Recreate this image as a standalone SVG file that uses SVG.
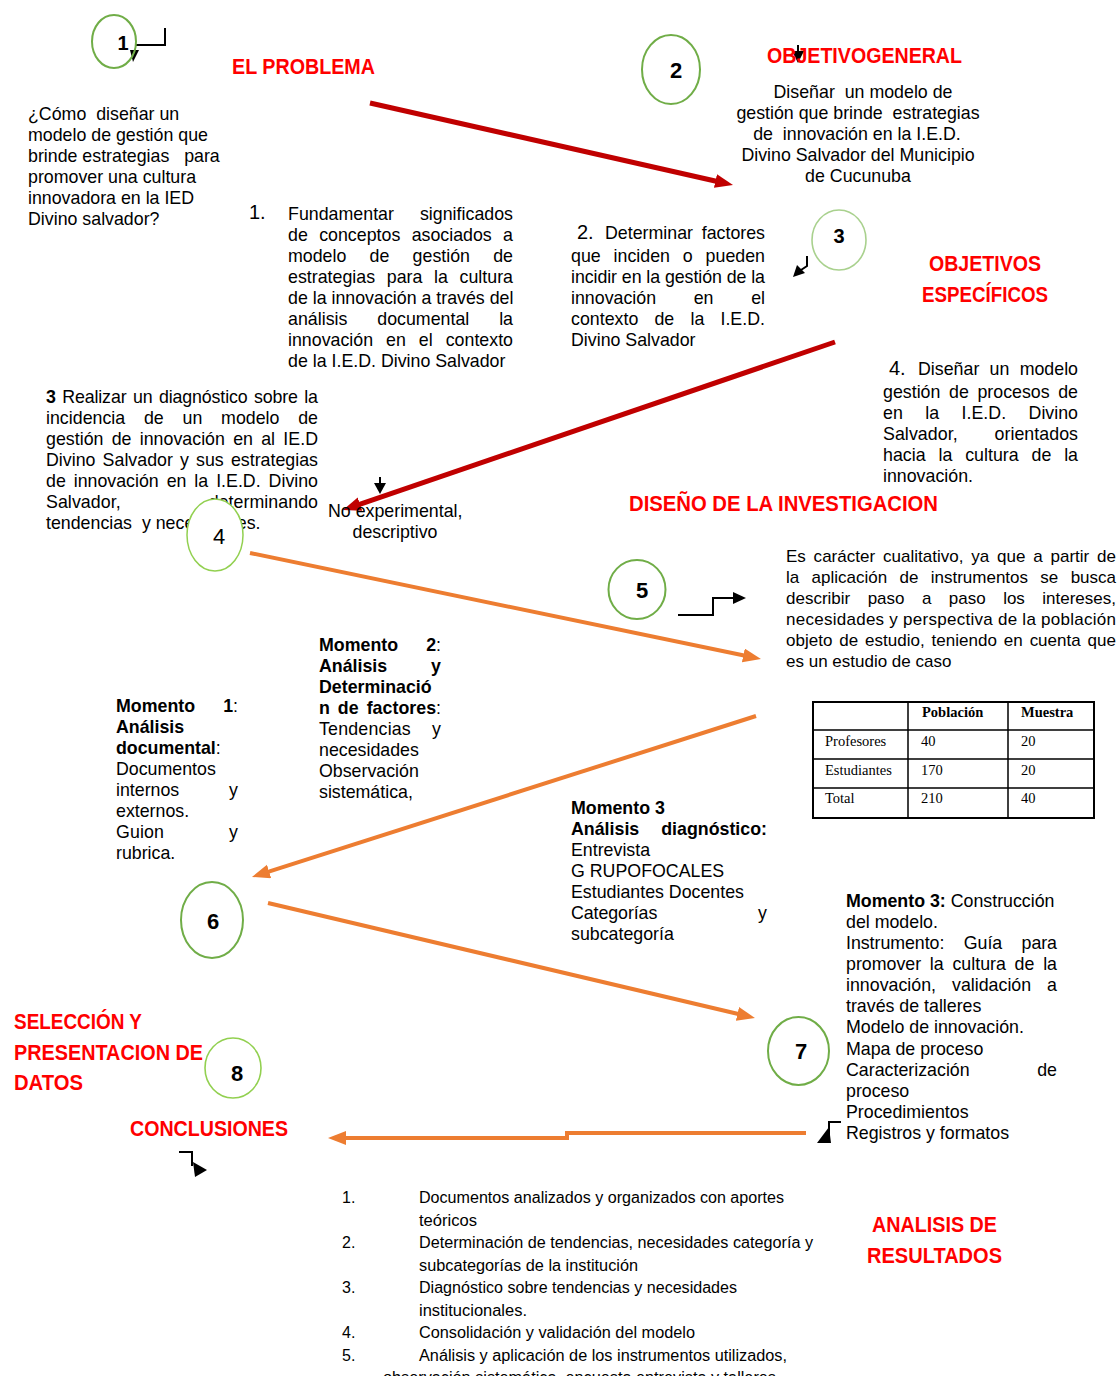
<svg xmlns="http://www.w3.org/2000/svg" width="1120" height="1376" viewBox="0 0 1120 1376">
<style>
.t{font-family:"Liberation Sans",Arial,sans-serif;font-size:17.8px;fill:#000}
.p{font-family:"Liberation Sans",Arial,sans-serif;font-size:17px;fill:#000}
.b{font-weight:bold}
.h{font-family:"Liberation Sans",Arial,sans-serif;font-weight:bold;font-size:22px;fill:#FF0000}
.n{font-family:"Liberation Sans",Arial,sans-serif;font-weight:bold;font-size:22px;text-anchor:middle;fill:#000}
.num{font-family:"Liberation Sans",Arial,sans-serif;font-size:20px;fill:#000}
.c1{fill:#fff;stroke:#70AD47;stroke-width:2}
.c2{fill:#fff;stroke:#A9D18E;stroke-width:1.6}
.l{font-family:"Liberation Sans",Arial,sans-serif;font-size:16px;fill:#000}
.tb{font-family:"Liberation Serif","Times New Roman",serif;font-size:14.5px;fill:#000}
.red{fill:none;stroke:#C00000;stroke-width:5}
.org{fill:none;stroke:#ED7D31;stroke-width:4}
.blk{fill:none;stroke:#000;stroke-width:2}
.hd{fill:#000}
</style>
<defs>
<marker id="aR" markerUnits="userSpaceOnUse" markerWidth="20" markerHeight="16" refX="2" refY="7" orient="auto"><path d="M0,0 L18,7 L0,14 z" fill="#C00000"/></marker>
<marker id="aO" markerUnits="userSpaceOnUse" markerWidth="20" markerHeight="16" refX="2" refY="7" orient="auto"><path d="M0,0 L18,7 L0,14 z" fill="#ED7D31"/></marker>
</defs>

<g id="connectors">
<path class="red" d="M370,103 L717.4,181.5" marker-end="url(#aR)"/>
<path class="red" d="M835,342 L358.1,504.8" marker-end="url(#aR)"/>
<path class="org" d="M250,553 L745.3,655.8" marker-end="url(#aO)"/>
<path class="org" d="M756,716 L267.2,872.1" marker-end="url(#aO)"/>
<path class="org" d="M268,903 L739.4,1014.3" marker-end="url(#aO)"/>
<path class="org" d="M806,1133 H567 V1138 H344" marker-end="url(#aO)"/>
<path class="blk" d="M165,28 V45 H136"/>
<polygon class="hd" points="130,50 139,50 133,62"/>
<path class="blk" d="M798,45 V53"/>
<polygon class="hd" points="792,51 804,51 798,63"/>
<path class="blk" d="M807,256 V266 L801,270"/>
<polygon class="hd" points="793,277 797,265 805,273"/>
<path class="blk" d="M380,477 V485"/>
<polygon class="hd" points="374,483 386,483 380,494"/>
<path class="blk" d="M678,615 H713 V598 H734"/>
<polygon class="hd" points="733,592 746,598 733,604"/>
<path class="blk" d="M841,1122 H829 V1135"/>
<polygon class="hd" points="817,1143 831,1143 829,1127"/>
<path class="blk" d="M179,1152 H192 V1166"/>
<polygon class="hd" points="193,1162 207,1170 195,1177"/>
</g>

<g id="node-1">
<ellipse class="c1" cx="114" cy="41.5" rx="22" ry="26.5" style="fill:none"/>
<text class="n" x="123" y="50" style="font-size:20px">1</text>
</g>

<g id="el-problema">
<text class="h" x="232" y="74" textLength="143" lengthAdjust="spacingAndGlyphs">EL PROBLEMA</text>
<text class="t" xml:space="preserve"><tspan x="28" y="120">¿Cómo  diseñar un</tspan><tspan x="28" y="141">modelo de gestión que</tspan><tspan x="28" y="162">brinde estrategias   para</tspan><tspan x="28" y="183">promover una cultura</tspan><tspan x="28" y="204">innovadora en la IED</tspan><tspan x="28" y="225">Divino salvador?</tspan></text>
</g>

<g id="node-2">
<ellipse class="c1" cx="671" cy="69.5" rx="29" ry="34.5"/>
<text class="n" x="676" y="78">2</text>
</g>

<g id="objetivo-general">
<text class="h" x="767" y="63" textLength="195" lengthAdjust="spacingAndGlyphs">OBJETIVOGENERAL</text>
<text class="t" text-anchor="middle" xml:space="preserve"><tspan x="863" y="98">Diseñar  un modelo de</tspan><tspan x="858" y="119">gestión que brinde  estrategias</tspan><tspan x="857" y="140">de  innovación en la I.E.D.</tspan><tspan x="858" y="161">Divino Salvador del Municipio</tspan><tspan x="858" y="182">de Cucunuba</tspan></text>
</g>

<g id="objetivo-1">
<text class="num" x="249" y="219">1.</text>
<text class="t" x="288" y="220" textLength="225" lengthAdjust="spacing" style="word-spacing:21px">Fundamentar significados</text>
<text class="t" x="288" y="241" textLength="225" lengthAdjust="spacing" style="word-spacing:6.4px">de conceptos asociados a</text>
<text class="t" x="288" y="262" textLength="225" lengthAdjust="spacing" style="word-spacing:18.3px">modelo de gestión de</text>
<text class="t" x="288" y="283" textLength="225" lengthAdjust="spacing" style="word-spacing:6.7px">estrategias para la cultura</text>
<text class="t" x="288" y="304">de la innovación a través del</text>
<text class="t" x="288" y="325" textLength="225" lengthAdjust="spacing" style="word-spacing:24.9px">análisis documental la</text>
<text class="t" x="288" y="346" textLength="225" lengthAdjust="spacing" style="word-spacing:8px">innovación en el contexto</text>
<text class="t" x="288" y="367">de la I.E.D. Divino Salvador</text>
</g>

<g id="objetivo-2">
<text class="num" x="577" y="239">2.</text>
<text class="t" x="605" y="239" textLength="160" lengthAdjust="spacing" style="word-spacing:3.7px">Determinar factores</text>
<text class="t" x="571" y="262" textLength="194" lengthAdjust="spacing" style="word-spacing:7.9px">que inciden o pueden</text>
<text class="t" x="571" y="283" textLength="194" lengthAdjust="spacing">incidir en la gestión de la</text>
<text class="t" x="571" y="304" textLength="194" lengthAdjust="spacing" style="word-spacing:32.7px">innovación en el</text>
<text class="t" x="571" y="325" textLength="194" lengthAdjust="spacing" style="word-spacing:11.2px">contexto de la I.E.D.</text>
<text class="t" x="571" y="346">Divino Salvador</text>
</g>

<g id="node-3">
<ellipse class="c2" cx="839" cy="240" rx="27" ry="30"/>
<text class="n" x="839" y="243" style="font-size:20px">3</text>
</g>

<g id="objetivos-especificos">
<text class="h" x="929" y="271" textLength="112" lengthAdjust="spacingAndGlyphs">OBJETIVOS</text>
<text class="h" x="922" y="302" textLength="126" lengthAdjust="spacingAndGlyphs">ESPECÍFICOS</text>
</g>

<g id="objetivo-4">
<text class="num" x="889" y="375">4.</text>
<text class="t" x="918" y="375" textLength="160" lengthAdjust="spacing" style="word-spacing:5.3px">Diseñar un modelo</text>
<text class="t" x="883" y="398" textLength="195" lengthAdjust="spacing" style="word-spacing:3.7px">gestión de procesos de</text>
<text class="t" x="883" y="419" textLength="195" lengthAdjust="spacing" style="word-spacing:17.5px">en la I.E.D. Divino</text>
<text class="t" x="883" y="440" textLength="195" lengthAdjust="spacing" style="word-spacing:31.8px">Salvador, orientados</text>
<text class="t" x="883" y="461" textLength="195" lengthAdjust="spacing" style="word-spacing:7.9px">hacia la cultura de la</text>
<text class="t" x="883" y="482">innovación.</text>
</g>

<g id="objetivo-3">
<text class="t" x="46" y="403" textLength="272" lengthAdjust="spacing" style="word-spacing:1.7px"><tspan class="b">3</tspan> Realizar un diagnóstico sobre la</text>
<text class="t" x="46" y="424" textLength="272" lengthAdjust="spacing" style="word-spacing:13.8px">incidencia de un modelo de</text>
<text class="t" x="46" y="445" textLength="272" lengthAdjust="spacing" style="word-spacing:3.3px">gestión de innovación en al IE.D</text>
<text class="t" x="46" y="466" textLength="272" lengthAdjust="spacing" style="word-spacing:2.2px">Divino Salvador y sus estrategias</text>
<text class="t" x="46" y="487" textLength="272" lengthAdjust="spacing" style="word-spacing:3px">de innovación en la I.E.D. Divino</text>
<text class="t" x="46" y="508" textLength="272" lengthAdjust="spacing" style="word-spacing:83px">Salvador, determinando</text>
<text class="t" x="46" y="529" xml:space="preserve">tendencias  y necesidades.</text>
</g>

<g id="node-4">
<ellipse cx="215" cy="535" rx="28" ry="36" fill="#fff" stroke="#92D050" stroke-width="1.5"/>
<text class="n" x="219" y="544" style="font-weight:normal">4</text>
</g>

<g id="tipo-estudio">
<text class="t" x="328" y="517">No experimental,</text>
<text class="t" x="395" y="538" text-anchor="middle">descriptivo</text>
</g>

<g id="diseno">
<text class="h" x="629" y="511" textLength="309" lengthAdjust="spacingAndGlyphs">DISEÑO DE LA INVESTIGACION</text>
</g>

<g id="node-5">
<ellipse class="c1" cx="637" cy="589.5" rx="28.5" ry="29.5"/>
<text class="n" x="642" y="598">5</text>
</g>

<g id="enfoque">
<text class="p" x="786" y="562" textLength="330" lengthAdjust="spacing" style="word-spacing:3px">Es carácter cualitativo, ya que a partir de</text>
<text class="p" x="786" y="583" textLength="330" lengthAdjust="spacing" style="word-spacing:7.6px">la aplicación de instrumentos se busca</text>
<text class="p" x="786" y="604" textLength="330" lengthAdjust="spacing" style="word-spacing:12.7px">describir paso a paso los intereses,</text>
<text class="p" x="786" y="625" textLength="330" lengthAdjust="spacing">necesidades y perspectiva de la población</text>
<text class="p" x="786" y="646" textLength="330" lengthAdjust="spacing" style="word-spacing:2.2px">objeto de estudio, teniendo en cuenta que</text>
<text class="p" x="786" y="667">es un estudio de caso</text>
</g>

<g id="momento-2">
<text class="t" x="319" y="651" textLength="122" lengthAdjust="spacing" style="word-spacing:23px"><tspan class="b">Momento 2</tspan>:</text>
<text class="t b" x="319" y="672" textLength="122" lengthAdjust="spacing" style="word-spacing:39px">Análisis y</text>
<text class="t b" x="319" y="693">Determinació</text>
<text class="t" x="319" y="714" textLength="122" lengthAdjust="spacing" style="word-spacing:3px"><tspan class="b">n de factores</tspan>:</text>
<text class="t" x="319" y="735" textLength="122" lengthAdjust="spacing" style="word-spacing:16px">Tendencias y</text>
<text class="t" x="319" y="756">necesidades</text>
<text class="t" x="319" y="777">Observación</text>
<text class="t" x="319" y="798">sistemática,</text>
</g>

<g id="momento-1">
<text class="t" x="116" y="712" textLength="122" lengthAdjust="spacing" style="word-spacing:23px"><tspan class="b">Momento 1</tspan>:</text>
<text class="t b" x="116" y="733">Análisis</text>
<text class="t" x="116" y="754"><tspan class="b">documental</tspan>:</text>
<text class="t" x="116" y="775">Documentos</text>
<text class="t" x="116" y="796" textLength="122" lengthAdjust="spacing" style="word-spacing:45px">internos y</text>
<text class="t" x="116" y="817">externos.</text>
<text class="t" x="116" y="838" textLength="122" lengthAdjust="spacing" style="word-spacing:60px">Guion y</text>
<text class="t" x="116" y="859">rubrica.</text>
</g>

<g id="tabla">
<rect x="813" y="702" width="281" height="116" fill="#fff" stroke="#000" stroke-width="2"/>
<path d="M908,702 V818 M1008,702 V818 M813,730 H1094 M813,759 H1094 M813,788 H1094" stroke="#000" stroke-width="1.5" fill="none"/>
<text class="tb b" x="922" y="717">Población</text>
<text class="tb b" x="1021" y="717">Muestra</text>
<text class="tb" x="825" y="746">Profesores</text>
<text class="tb" x="921" y="746">40</text>
<text class="tb" x="1021" y="746">20</text>
<text class="tb" x="825" y="775">Estudiantes</text>
<text class="tb" x="921" y="775">170</text>
<text class="tb" x="1021" y="775">20</text>
<text class="tb" x="825" y="803">Total</text>
<text class="tb" x="921" y="803">210</text>
<text class="tb" x="1021" y="803">40</text>
</g>

<g id="momento-3">
<text class="t b" x="571" y="814">Momento 3</text>
<text class="t b" x="571" y="835" textLength="196" lengthAdjust="spacing" style="word-spacing:17px">Análisis diagnóstico:</text>
<text class="t" x="571" y="856">Entrevista</text>
<text class="t" x="571" y="877">G RUPOFOCALES</text>
<text class="t" x="571" y="898">Estudiantes Docentes</text>
<text class="t" x="571" y="919" textLength="196" lengthAdjust="spacing" style="word-spacing:96px">Categorías y</text>
<text class="t" x="571" y="940">subcategoría</text>
</g>

<g id="node-6">
<ellipse class="c1" cx="212" cy="920" rx="31" ry="38"/>
<text class="n" x="213" y="929">6</text>
</g>

<g id="momento-3-construccion">
<text class="t" x="846" y="907"><tspan class="b">Momento 3:</tspan> Construcción</text>
<text class="t" x="846" y="928">del modelo.</text>
<text class="t" x="846" y="949" textLength="211" lengthAdjust="spacing" style="word-spacing:14.5px">Instrumento: Guía para</text>
<text class="t" x="846" y="970" textLength="211" lengthAdjust="spacing" style="word-spacing:3.8px">promover la cultura de la</text>
<text class="t" x="846" y="991" textLength="211" lengthAdjust="spacing" style="word-spacing:11px">innovación, validación a</text>
<text class="t" x="846" y="1012">través de talleres</text>
<text class="t" x="846" y="1033">Modelo de innovación.</text>
<text class="t" x="846" y="1055">Mapa de proceso</text>
<text class="t" x="846" y="1076" textLength="211" lengthAdjust="spacing" style="word-spacing:62.6px">Caracterización de</text>
<text class="t" x="846" y="1097">proceso</text>
<text class="t" x="846" y="1118">Procedimientos</text>
<text class="t" x="846" y="1139">Registros y formatos</text>
</g>

<g id="node-7">
<ellipse class="c1" cx="798.5" cy="1051" rx="30.5" ry="34"/>
<text class="n" x="801" y="1059">7</text>
</g>

<g id="seleccion">
<text class="h" x="14" y="1029" textLength="128" lengthAdjust="spacingAndGlyphs">SELECCIÓN Y</text>
<text class="h" x="14" y="1060" textLength="189" lengthAdjust="spacingAndGlyphs">PRESENTACION DE</text>
<text class="h" x="14" y="1090" textLength="69" lengthAdjust="spacingAndGlyphs">DATOS</text>
</g>

<g id="node-8">
<ellipse cx="233" cy="1068" rx="28" ry="30" fill="none" stroke="#92D050" stroke-width="1.6"/>
<text class="n" x="237" y="1081">8</text>
</g>

<g id="conclusiones">
<text class="h" x="130" y="1136" textLength="158" lengthAdjust="spacingAndGlyphs">CONCLUSIONES</text>
</g>

<g id="analisis-resultados">
<text class="h" x="934.5" y="1232" text-anchor="middle" textLength="125" lengthAdjust="spacingAndGlyphs">ANALISIS DE</text>
<text class="h" x="934.5" y="1263" text-anchor="middle" textLength="135" lengthAdjust="spacingAndGlyphs">RESULTADOS</text>
</g>

<g id="lista-resultados">
<text class="l" x="342" y="1203">1.</text>
<text class="l" x="419" y="1203" textLength="365" lengthAdjust="spacingAndGlyphs">Documentos analizados y organizados con aportes</text>
<text class="l" x="419" y="1226" textLength="58" lengthAdjust="spacingAndGlyphs">teóricos</text>
<text class="l" x="342" y="1248">2.</text>
<text class="l" x="419" y="1248" textLength="394" lengthAdjust="spacingAndGlyphs">Determinación de tendencias, necesidades categoría y</text>
<text class="l" x="419" y="1271" textLength="219" lengthAdjust="spacingAndGlyphs">subcategorías de la institución</text>
<text class="l" x="342" y="1293">3.</text>
<text class="l" x="419" y="1293" textLength="318" lengthAdjust="spacingAndGlyphs">Diagnóstico sobre tendencias y necesidades</text>
<text class="l" x="419" y="1316" textLength="108" lengthAdjust="spacingAndGlyphs">institucionales.</text>
<text class="l" x="342" y="1338">4.</text>
<text class="l" x="419" y="1338" textLength="276" lengthAdjust="spacingAndGlyphs">Consolidación y validación del modelo</text>
<text class="l" x="342" y="1361">5.</text>
<text class="l" x="419" y="1361" textLength="368" lengthAdjust="spacingAndGlyphs">Análisis y aplicación de los instrumentos utilizados,</text>
<text class="l" x="383" y="1383" textLength="393" lengthAdjust="spacingAndGlyphs">observación sistemática, encuesta entrevista y talleres</text>
</g>
</svg>
